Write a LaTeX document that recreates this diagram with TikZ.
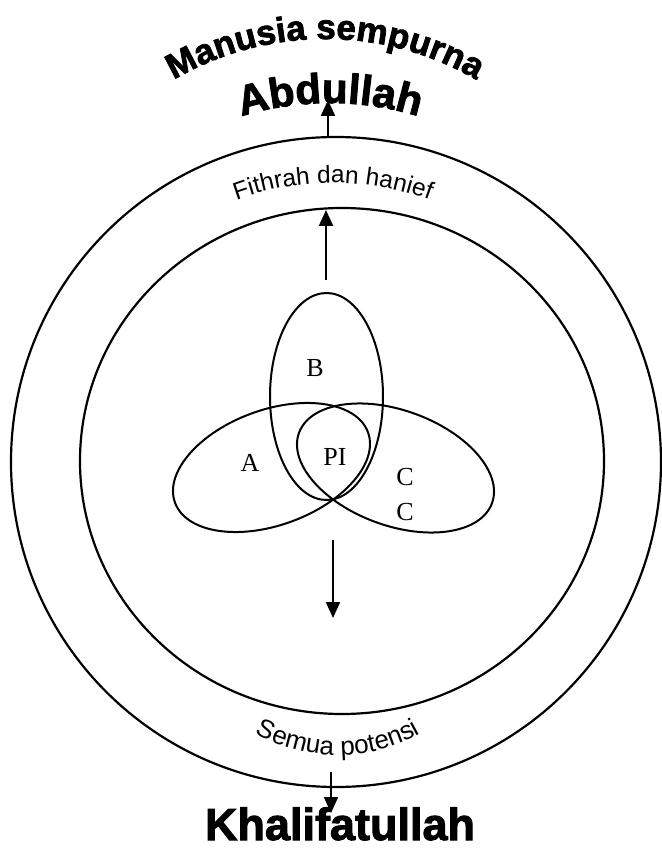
\documentclass[tikz,border=0pt]{standalone}
\usepackage{fontspec}
\setmainfont{Liberation Serif}
\setsansfont{Liberation Sans}
\newfontfamily\heavysans[BoldFeatures={FakeBold=2.2}]{Liberation Sans}
\usetikzlibrary{arrows.meta,decorations.text}
\newcommand\topfont{\fontsize{35}{38}\selectfont\heavysans\bfseries}
\newcommand\midfont{\fontsize{42}{44}\selectfont\heavysans\bfseries}
\newcommand\ringfont{\fontsize{24.5}{26}\selectfont\sffamily}
\newcommand\lowfont{\fontsize{26}{28}\selectfont\sffamily}
\tikzset{ring/.style={draw=black,line width=2.2pt},
 lobe/.style={draw=black,line width=2pt},
 arr/.style={-{Triangle[length=16pt,width=14pt]},line width=2pt},
 lbl/.style={inner sep=0pt,font=\fontsize{26}{28}\selectfont},
 arch/.style={decorate,decoration={text along path,text align=center,text={#1}}}}

\begin{document}
\begin{tikzpicture}[x=1pt,y=1pt]
\useasboundingbox (-336,-386) rectangle (325,462);
% two rings
\draw[ring] (0,0) circle[radius=325];
\draw[ring] (6,1) ellipse[x radius=262,y radius=253];
% three lobes
\draw[lobe] (-9.5,65.5) ellipse[x radius=56.5,y radius=103.5];
\draw[lobe,rotate around={20:(-64.5,-5.5)}] (-64.5,-5.5) ellipse[x radius=102.7,y radius=57.6];
\draw[lobe,rotate around={-20:(59.5,-6)}] (59.5,-6) ellipse[x radius=102.7,y radius=57.6];
\node[lbl] (b) at (-21,94) {B};
\node[lbl] (a) at (-86,-1) {A};
\node[lbl] (pi) at (-1,5) {PI};
\node[lbl] (c1) at (69,-15) {C};
\node[lbl] (c2) at (69,-50) {C};
% arched texts
\path[arch={|\topfont|Manusia sempurna}] (-11,123) ++(135:300) arc[start angle=135,end angle=45,radius=300];
\path[arch={|\midfont|Abdullah}] (-6,59) ++(120:300) arc[start angle=120,end angle=60,radius=300];
\path[arch={|\ringfont|Fithrah dan hanief}] (-3,-1) ++(118:280) arc[start angle=118,end angle=62,radius=280];
\path[arch={|\lowfont|Semua potensi}] (2,-123) ++(225:170) arc[start angle=225,end angle=315,radius=170];
\node[anchor=base,inner sep=0pt,font=\fontsize{45}{48}\selectfont\heavysans\bfseries] (khal) at (4,-378) {Khalifatullah};
% arrows
\coordinate (otop) at (-8,325);
\coordinate (abd) at (-8,362);
\coordinate (up0) at (-10,182);
\coordinate (itop) at (-10,252);
\coordinate (dn0) at (-3,-78);
\coordinate (dn1) at (-3,-156);
\coordinate (bt0) at (-5,-310);
\coordinate (bt1) at (-5,-351);
\draw[arr] (otop)--(abd);
\draw[arr] (up0)--(itop);
\draw[arr] (dn0)--(dn1);
\draw[arr] (bt0)--(bt1);
\end{tikzpicture}
\end{document}
